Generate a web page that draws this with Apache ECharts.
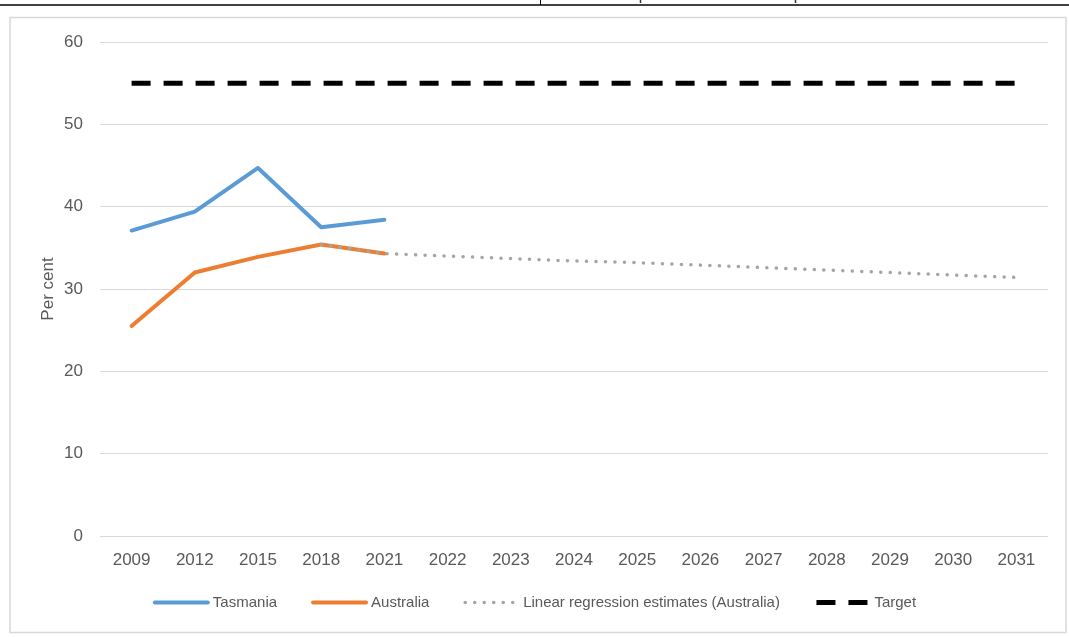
<!DOCTYPE html>
<html>
<head>
<meta charset="utf-8">
<script src="https://cdn.jsdelivr.net/npm/echarts@6/dist/echarts.min.js"></script>
<style>html,body{margin:0;padding:0;background:#fff}#c{width:1069px;height:637px}</style>
</head>
<body>
<div id="c"></div>
<script>
const categories = ['2009','2012','2015','2018','2021','2022','2023','2024','2025','2026','2027','2028','2029','2030','2031'];
const tasmania = [37.1, 39.4, 44.7, 37.5, 38.4, null, null, null, null, null, null, null, null, null, null];
const australia = [25.5, 32.0, 33.9, 35.4, 34.3, null, null, null, null, null, null, null, null, null, null];
const regression = [null, null, null, 35.4, 34.3, 34.0, 33.7, 33.4, 33.2, 32.9, 32.6, 32.3, 32.0, 31.7, 31.4];
const target = [55, 55, 55, 55, 55, 55, 55, 55, 55, 55, 55, 55, 55, 55, 55];
const yTicks = {min: 0, max: 60, interval: 10};

const FONT = 'Liberation Sans';
const styles = {
  Tasmania: {color: '#5B9BD5', width: 4, type: 'solid', cap: 'round'},
  Australia: {color: '#ED7D31', width: 4, type: 'solid', cap: 'round'},
  Regression: {color: '#A5A5A5', width: 3.5, type: [0.1, 9.4], cap: 'round'},
  Target: {color: '#000', width: 5, type: [19, 13], cap: 'butt'}
};
const names = ['Tasmania', 'Australia', 'Linear regression estimates (Australia)', 'Target'];
const keys = ['Tasmania', 'Australia', 'Regression', 'Target'];

const chart = echarts.init(document.getElementById('c'), null, {renderer: 'canvas'});
chart.setOption({
  animation: false,
  backgroundColor: '#fff',
  textStyle: {fontFamily: FONT},
  graphic: [
    {type: 'rect', shape: {x: 10, y: 17.5, width: 1056, height: 615}, style: {fill: 'none', stroke: '#D9D9D9', lineWidth: 1.5}, silent: true},
    {type: 'line', shape: {x1: 0, y1: 5, x2: 1069, y2: 5}, style: {stroke: '#000', lineWidth: 1.5}, silent: true},
    {type: 'line', shape: {x1: 540.5, y1: 0, x2: 540.5, y2: 5}, style: {stroke: '#000', lineWidth: 1}, silent: true},
    {type: 'line', shape: {x1: 640.5, y1: 0, x2: 640.5, y2: 3}, style: {stroke: '#333', lineWidth: 1.5}, silent: true},
    {type: 'line', shape: {x1: 795.5, y1: 0, x2: 795.5, y2: 3}, style: {stroke: '#333', lineWidth: 1.5}, silent: true}
  ],
  grid: {left: 100, right: 21, top: 42, bottom: 101, containLabel: false},
  legend: {
    bottom: 22,
    left: 'center',
    itemWidth: 53,
    itemHeight: 12,
    itemGap: 34,
    itemStyle: {opacity: 0},
    textStyle: {color: '#595959', fontSize: 15, fontFamily: FONT},
    data: names.map((n, i) => ({name: n, lineStyle: Object.assign({}, styles[keys[i]])}))
  },
  xAxis: {
    type: 'category',
    data: categories,
    boundaryGap: true,
    axisLine: {show: false},
    axisTick: {show: false},
    axisLabel: {color: '#595959', fontSize: 17, margin: 16, interval: 0},
    splitLine: {show: false}
  },
  yAxis: {
    type: 'value',
    min: yTicks.min, max: yTicks.max, interval: yTicks.interval,
    name: 'Per cent',
    nameLocation: 'middle',
    nameRotate: 90,
    nameGap: 43,
    nameMoveOverlap: false,
    nameTextStyle: {color: '#595959', fontSize: 17, fontFamily: FONT},
    axisLine: {show: false},
    axisTick: {show: false},
    axisLabel: {color: '#595959', fontSize: 17, margin: 17},
    splitLine: {lineStyle: {color: '#D9D9D9', width: 1}}
  },
  series: [
    {name: names[0], type: 'line', data: tasmania, symbol: 'none',
     lineStyle: Object.assign({join: 'round'}, styles.Tasmania), itemStyle: {color: styles.Tasmania.color}},
    {name: names[1], type: 'line', data: australia, symbol: 'none',
     lineStyle: Object.assign({join: 'round'}, styles.Australia), itemStyle: {color: styles.Australia.color}},
    {name: names[2], type: 'line', data: regression, symbol: 'none',
     lineStyle: Object.assign({}, styles.Regression), itemStyle: {color: styles.Regression.color}},
    {name: names[3], type: 'line', data: target, symbol: 'none',
     lineStyle: Object.assign({}, styles.Target), itemStyle: {color: styles.Target.color}}
  ]
});
</script>
</body>
</html>
